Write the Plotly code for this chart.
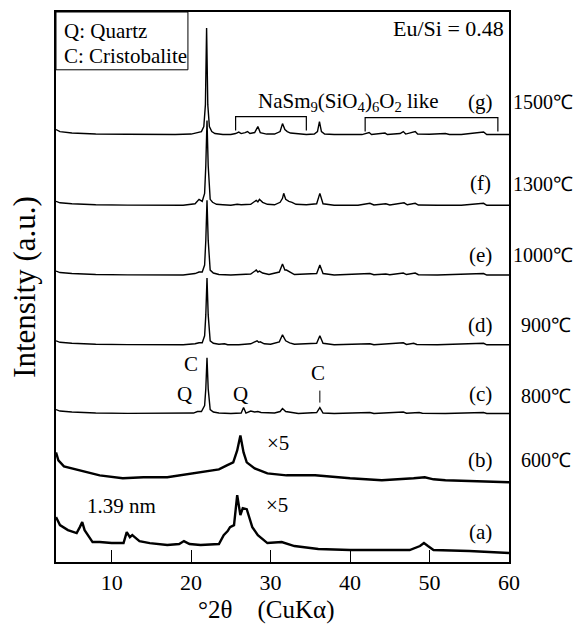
import plotly.graph_objects as go

# ---- data (2theta, intensity above each pattern's own baseline) ----
g_x = [3.0, 3.5, 5, 8, 12, 15, 18, 20, 20.6, 20.9, 21.3, 21.6, 21.8, 21.95, 22.1, 22.3, 22.6, 23, 24, 25, 25.6, 26.0, 26.3, 26.8, 27.1, 27.4, 28.0, 28.4, 28.7, 29.5, 30.5, 31.2, 31.5, 31.8, 32.1, 32.5, 33.5, 34.5, 35.5, 35.9, 36.15, 36.4, 36.8, 38, 40, 41.5, 42.4, 42.7, 44.4, 44.7, 46.3, 46.7, 47, 48.2, 48.5, 50, 52, 52.5, 54, 56.8, 57.2, 60]
g_y = [5, 3, 1.5, 0.5, 0.3, 0, 0, 0.5, 1.5, 2.5, 3, 8, 30, 107, 30, 8, 3, 1, 0, 0, 1, 2.5, 1, 2, 3, 1, 2, 8, 2, 0.5, 0.5, 3, 11, 5, 3, 1.5, 0.5, 0, 0.5, 3, 13, 3, 0.5, 0, 0, 0, 2, 0, 1.5, 0, 1, 3, 0.5, 3, 0.5, 0.3, 1, 0, 0, 2.5, 0, 0]

f_x = [3.0, 3.5, 5, 8, 12, 16, 19, 20.5, 21.0, 21.4, 21.7, 21.85, 22.0, 22.15, 22.4, 22.7, 23.2, 24, 25, 25.8, 26.3, 27.5, 28.2, 28.4, 28.6, 29.0, 29.6, 30.5, 31.2, 31.5, 31.65, 31.9, 32.3, 32.7, 33.2, 34.5, 35.8, 36.2, 36.6, 38, 41, 42.5, 43, 44.5, 45, 46.8, 47.2, 48.2, 48.6, 51, 54, 56.8, 57.2, 60]
f_y = [4, 2.5, 1.5, 0.5, 0.2, 0, 0, 1.5, 6, 4, 12, 40, 85, 40, 6, 3, 1, 0.5, 0, 1, 0.5, 1, 5, 3.5, 6, 3, 1, 0.5, 3, 7, 12, 6, 4, 3, 1, 0.5, 1.5, 12, 1.5, 0, 0, 2, 0.3, 1.5, 0.3, 2.5, 0.5, 2, 0.3, 0, 0, 2, 0, 0]

e_x = [3.0, 3.5, 5, 8, 12, 16, 19, 20.5, 21.0, 21.4, 21.7, 21.85, 22.0, 22.15, 22.4, 22.8, 23.5, 25, 26.5, 27.5, 28.2, 28.4, 28.6, 29.0, 29.8, 31.1, 31.5, 31.8, 32.0, 32.4, 33.0, 35.8, 36.2, 36.6, 38, 42.5, 43, 44.5, 45, 46.7, 47.1, 48.2, 48.6, 51, 56.8, 57.2, 60]
e_y = [4, 2.5, 1.5, 0.5, 0.2, 0, 0, 1.5, 3, 3, 10, 35, 75, 35, 5, 2, 0.5, 0, 0.5, 1, 5, 3, 4, 2, 0.5, 3, 11, 5, 5, 3, 0.5, 1.5, 10, 1.5, 0, 1.5, 0.3, 1, 0.3, 2, 0.5, 2, 0.3, 0, 1.5, 0, 0]

d_x = [3.0, 3.5, 5, 8, 12, 16, 19, 20.5, 21.0, 21.4, 21.7, 21.85, 22.0, 22.15, 22.4, 22.8, 23.5, 24.2, 24.6, 26, 27.5, 28.3, 28.5, 28.7, 29.2, 30, 31.1, 31.5, 31.9, 32.4, 33.0, 35.8, 36.2, 36.6, 38, 42.5, 43, 46.7, 47.1, 48.0, 48.4, 51, 56.8, 57.2, 60]
d_y = [4, 2.5, 1.5, 0.5, 0.2, 0, 0, 1, 2, 2, 9, 30, 67, 30, 4, 1.5, 0.5, 1, 0, 0, 1, 4, 2.5, 3, 1, 0.5, 3, 10, 4, 2, 0.5, 1.5, 9, 1.5, 0, 1, 0, 2, 0.3, 1.5, 0.3, 0, 1.5, 0, 0]

c_x = [3.0, 3.5, 5, 8, 12, 16, 19, 20.3, 20.8, 21.3, 21.7, 21.85, 22.0, 22.15, 22.4, 22.8, 23.5, 25, 26.3, 26.6, 26.9, 27.5, 28.0, 28.4, 28.8, 29.6, 30.5, 31.2, 31.5, 31.9, 32.5, 33.5, 35.8, 36.2, 36.6, 38, 42.5, 43, 46.7, 47.1, 48.7, 49.1, 52, 56.8, 57.2, 60]
c_y = [4, 2.5, 1.5, 0.5, 0.2, 0, 0, 0.5, 2, 2, 8, 25, 56, 25, 4, 1.5, 0.5, 0, 0.5, 6, 0.5, 2.5, 1.5, 2, 1, 0.5, 0.5, 2, 5, 2, 1, 0, 1, 6, 0.5, 0, 1, 0, 1.5, 0.3, 1, 0.3, 0, 1, 0, 0]

b_x = [3.0, 3.3, 4, 6, 8.5, 11.4, 14, 17, 21.2, 23.5, 24.5, 25.3, 25.8, 26.2, 26.6, 27.0, 28.0, 29.6, 32, 35.6, 40, 44, 48, 49.4, 50.5, 52, 56, 60]
b_y = [30, 22, 16, 12, 7, 4, 5, 5, 10, 13, 17, 20, 32, 47, 30, 20, 14, 9, 7, 7, 4, 2, 4, 5, 3, 2, 1, 0]

a_x = [3.0, 3.5, 4.5, 5.6, 6.0, 6.3, 6.6, 7.6, 8.5, 10, 11.5, 11.9, 12.3, 12.6, 12.9, 13.5, 14.8, 17, 18.5, 19.1, 19.8, 21.2, 23.5, 24.1, 24.6, 24.9, 25.4, 25.8, 26.2, 26.5, 27.0, 27.7, 28.4, 29.6, 31.4, 33, 36, 40, 44, 47.5, 48.8, 49.3, 49.8, 50.5, 55, 60]
a_y = [36, 28, 23, 20, 26, 31, 23, 11, 11, 10, 10, 21, 16, 18, 16, 12, 10, 8, 9, 12, 9, 8, 9, 18, 22, 26, 28, 58, 38, 45, 44, 26, 18, 10, 11, 7, 4, 3, 3, 3, 7, 10, 7, 3, 2, 0]

series_x = [a_x, b_x, c_x, d_x, e_x, f_x, g_x]
series_y = [a_y, b_y, c_y, d_y, e_y, f_y, g_y]
offsets = [9, 80, 149, 218, 288, 358, 429]
widths = [2.4, 2.4, 1.4, 1.4, 1.4, 1.4, 1.4]
letters = ["(a)", "(b)", "(c)", "(d)", "(e)", "(f)", "(g)"]
letter_pos = [30, 102, 169, 238, 308, 380, 462]
temps = ["", "600℃", "800℃", "900℃", "1000℃", "1300℃", "1500℃"]
temp_pos = [0, 102, 167, 238, 308, 379, 462]
x_ticks = [10, 20, 30, 40, 50, 60]

SERIF = "Liberation Serif, Times New Roman, serif"
NB = "\u00a0"

fig = go.Figure()
for xs, ys, off, w in zip(series_x, series_y, offsets, widths):
    fig.add_trace(go.Scatter(x=xs, y=[v + off for v in ys], mode="lines",
                             line=dict(color="black", width=w), showlegend=False,
                             hoverinfo="skip"))

ann = []
def A(text, x, y, xanchor="center", xref="x", yref="y", size=21, angle=0):
    ann.append(dict(text=text, x=x, y=y, xref=xref, yref=yref, xanchor=xanchor,
                    yanchor="middle", showarrow=False, textangle=angle,
                    font=dict(family=SERIF, size=size, color="black")))

for t, p in zip(letters, letter_pos):
    A(t, 56.4, p)
for t, p in zip(temps, temp_pos):
    if t:
        xl = 1.004 if len(t) > 4 else 1.022
        A(t, xl, p, xanchor="left", xref="paper", size=20)

A("NaSm<sub>9</sub>(SiO<sub>4</sub>)<sub>6</sub>O<sub>2</sub> like", 39.7, 462)
A("Q: Quartz", 3.7, 533, xanchor="left")
A("C: Cristobalite", 3.7, 508, xanchor="left")
A("Eu/Si = 0.48", 59.6, 535, xanchor="right", size=22)
A("1.39 nm", 11.2, 56)
A("×5", 30.9, 119)
A("×5", 30.8, 57)
A("C", 20.0, 199)
A("Q", 19.2, 169)
A("Q", 26.2, 169)
A("C", 36.0, 190)
# axis titles
A("°2θ" + NB * 4 + "(CuKα)", 0.464, -0.088, xref="paper", yref="paper", size=25)
A("Intensity (a.u.)", -0.071, 0.50, xref="paper", yref="paper", size=31, angle=-90)

shapes = [
    dict(type="rect", x0=3, x1=19.6, y0=494, y1=552, xref="x", yref="y",
         line=dict(color="black", width=1)),
    dict(type="path", path="M 25.6,433 L 25.6,447 L 34.5,447 L 34.5,433",
         xref="x", yref="y", line=dict(color="black", width=1.2)),
    dict(type="path", path="M 41.9,432 L 41.9,446 L 58.6,446 L 58.6,432",
         xref="x", yref="y", line=dict(color="black", width=1.2)),
    dict(type="line", x0=36.2, x1=36.2, y0=160, y1=172, xref="x", yref="y",
         line=dict(color="black", width=1)),
]

# the page body adds an 8px margin, so the figure is drawn 8px smaller
fig.update_layout(
    width=574, height=621,
    margin=dict(l=48, r=73, t=2, b=67),
    paper_bgcolor="white", plot_bgcolor="white",
    annotations=ann, shapes=shapes,
    font=dict(family=SERIF, color="black"),
    xaxis=dict(range=[3, 60], tickvals=x_ticks, ticks="inside", ticklen=12,
               tickwidth=1, tickcolor="black", showgrid=False, zeroline=False,
               showline=True, linecolor="black", linewidth=1.5, mirror=True,
               tickfont=dict(family=SERIF, size=22)),
    yaxis=dict(range=[0, 552], showticklabels=False, ticks="", showgrid=False,
               zeroline=False, showline=True, linecolor="black", linewidth=1.5,
               mirror=True),
)

fig.write_html("out.html")
